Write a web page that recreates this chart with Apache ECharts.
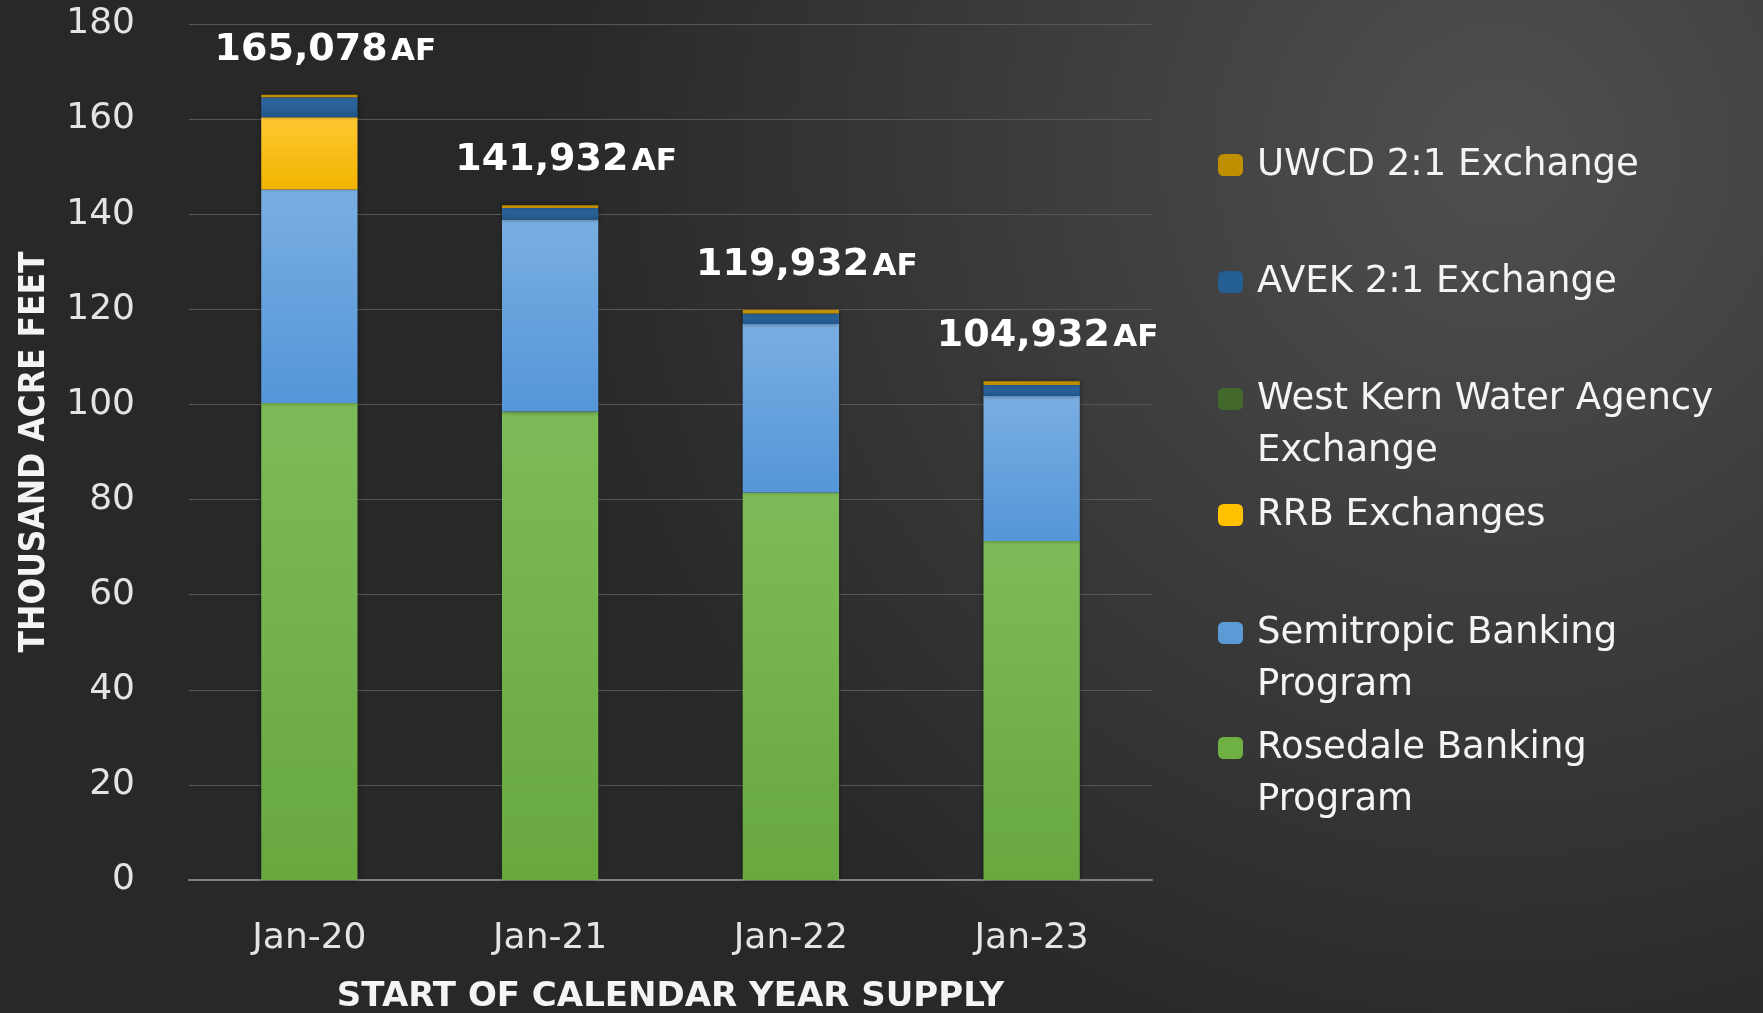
<!DOCTYPE html>
<html>
<head>
<meta charset="utf-8">
<script src="https://cdn.jsdelivr.net/npm/echarts@6/dist/echarts.min.js"></script>
<style>
  html, body { margin: 0; padding: 0; }
  #chart { width: 1763px; height: 1013px; }
</style>
</head>
<body>
<div id="chart"></div>
<script>
  // categories and values (thousand acre feet)
  var categories = ['Jan-20', 'Jan-21', 'Jan-22', 'Jan-23'];
  var rosedale = [100.3, 98.5, 81.5, 71.3];
  var semitropic = [44.9, 40.4, 35.4, 30.5];
  var rrb = [15.2, 0, 0, 0];
  var westKern = [0, 0, 0, 0];
  var avek = [4.2, 2.4, 2.2, 2.3];
  var uwcd = [0.5, 0.6, 0.8, 0.8];
  var totals = ['165,078', '141,932', '119,932', '104,932'];
  var yTicks = [0, 20, 40, 60, 80, 100, 120, 140, 160, 180];

  var font = '"DejaVu Sans", sans-serif';
  var L = 52; // legend line height

  function grad(top, bottom) {
    return new echarts.graphic.LinearGradient(0, 0, 0, 1, [
      {offset: 0, color: top},
      {offset: 1, color: bottom}
    ]);
  }

  var seriesDefs = [
    {name: 'Rosedale Banking Program', data: rosedale, color: grad('#7dbb58', '#68a83f'), icon: '#6eb044', legendName: 'Rosedale Banking\nProgram', y: 748},
    {name: 'Semitropic Banking Program', data: semitropic, color: grad('#7aaee2', '#5496d8'), icon: '#5b9bd5', legendName: 'Semitropic Banking\nProgram', y: 633},
    {name: 'RRB Exchanges', data: rrb, color: grad('#ffc832', '#f0b400'), icon: '#ffc000', legendName: 'RRB Exchanges', y: 515},
    {name: 'West Kern Water Agency Exchange', data: westKern, color: '#43682b', icon: '#43682b', legendName: 'West Kern Water Agency\nExchange', y: 399},
    {name: 'AVEK 2:1 Exchange', data: avek, color: grad('#2f6aa3', '#22568a'), icon: '#255e91', legendName: 'AVEK 2:1 Exchange', y: 282},
    {name: 'UWCD 2:1 Exchange', data: uwcd, color: '#bf8f00', icon: '#bf8f00', legendName: 'UWCD 2:1 Exchange', y: 165}
  ];

  var chart = echarts.init(document.getElementById('chart'));

  var series = seriesDefs.map(function (d, i) {
    var s = {
      name: d.name,
      type: 'bar',
      stack: 'supply',
      barWidth: '40%',
      data: d.data,
      itemStyle: {
        color: d.color,
        shadowColor: 'rgba(0,0,0,0.45)',
        shadowBlur: 5
      }
    };
    if (i === seriesDefs.length - 1) {
      s.label = {
        show: true,
        position: 'top',
        distance: 26,
        offset: [16, 0],
        formatter: function (p) {
          return '{n|' + totals[p.dataIndex] + '} {a|AF}';
        },
        rich: {
          n: {fontFamily: font, fontWeight: 'bold', fontSize: 38, color: '#ffffff'},
          a: {fontFamily: font, fontWeight: 'bold', fontSize: 31, color: '#ffffff', padding: [4, 0, 0, 0]}
        }
      };
    }
    return s;
  });

  // one legend per item, so each entry keeps the same slot spacing;
  // a blank first line keeps the icon level with the first text line
  var legends = seriesDefs.map(function (d) {
    var twoLine = d.legendName.indexOf('\n') >= 0;
    return {
      orient: 'vertical',
      left: 1218,
      top: d.y - (twoLine ? 1.5 * L : 0.5 * L),
      padding: 0,
      itemWidth: 25,
      itemHeight: 22,
      selectedMode: false,
      data: [{name: d.name, itemStyle: {color: d.icon, shadowBlur: 0}}],
      formatter: function () { return twoLine ? ' \n' + d.legendName : d.legendName; },
      textStyle: {
        fontFamily: font,
        fontSize: 37,
        color: '#f4f4f4',
        lineHeight: L,
        padding: [0, 0, 0, 9]
      }
    };
  });

  chart.setOption({
    backgroundColor: new echarts.graphic.RadialGradient(0.85, 0.15, 0.95, [
      {offset: 0, color: '#4f4f4f'},
      {offset: 1, color: '#282828'}
    ]),
    animation: false,
    grid: {left: 189, right: 611, top: 24, bottom: 133, containLabel: false, outerBoundsMode: 'none'},
    legend: legends,
    xAxis: {
      type: 'category',
      data: categories,
      name: 'START OF CALENDAR YEAR SUPPLY',
      nameLocation: 'middle',
      nameGap: 100,
      nameTextStyle: {fontFamily: font, fontWeight: 'bold', fontSize: 34, color: '#f4f4f4'},
      axisLine: {lineStyle: {color: '#808080', width: 2}},
      axisTick: {show: false},
      axisLabel: {fontFamily: font, fontSize: 36, color: '#e4e4e4', margin: 41}
    },
    yAxis: {
      type: 'value',
      min: yTicks[0],
      max: yTicks[yTicks.length - 1],
      interval: 20,
      name: 'THOUSAND ACRE FEET',
      nameLocation: 'middle',
      nameGap: 137,
      nameRotate: 90,
      nameTextStyle: {fontFamily: '"Liberation Sans Narrow", "DejaVu Sans Condensed", sans-serif', fontWeight: 'bold', fontSize: 35, color: '#f4f4f4'},
      axisLine: {show: false},
      axisTick: {show: false},
      axisLabel: {fontFamily: font, fontSize: 36, color: '#e4e4e4', margin: 54},
      splitLine: {lineStyle: {color: '#575757', width: 1}}
    },
    series: series
  });
</script>
</body>
</html>
